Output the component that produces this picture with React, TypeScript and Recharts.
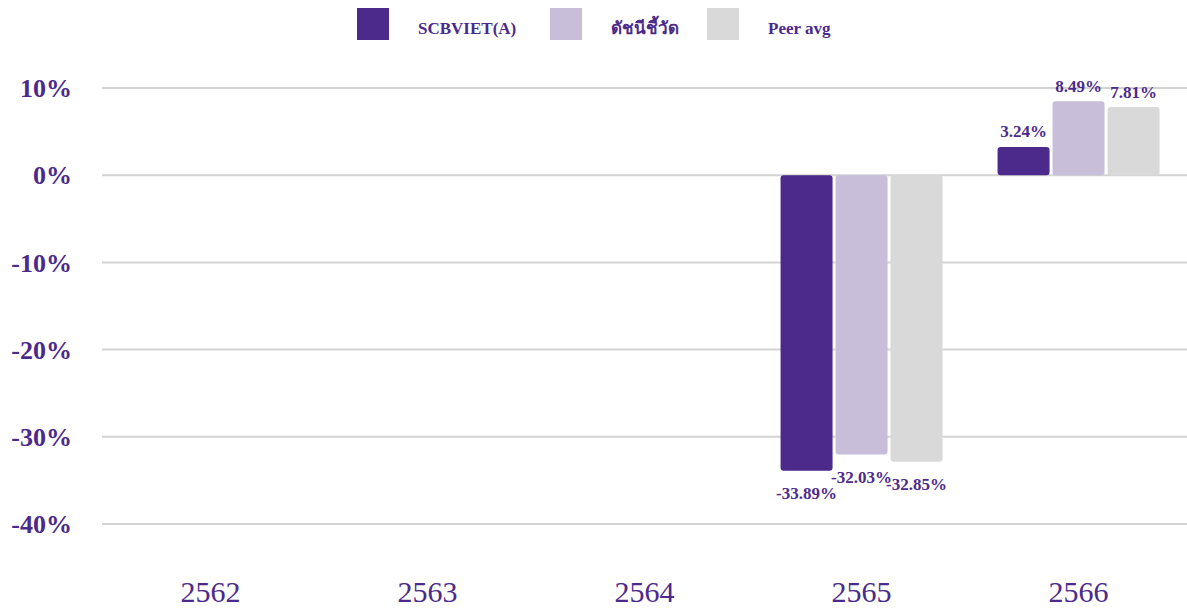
import { BarChart, Bar, XAxis, YAxis, CartesianGrid, LabelList } from 'recharts';

const years = ['2562', '2563', '2564', '2565', '2566'];
const fundReturns = [null, null, null, -33.89, 3.24];
const benchmarkReturns = [null, null, null, -32.03, 8.49];
const peerReturns = [null, null, null, -32.85, 7.81];
const yTicks = [-40, -30, -20, -10, 0, 10];

const seriesNames = ['SCBVIET(A)', 'ดัชนีชี้วัด', 'Peer avg'];
const seriesColors = ['#4B2A8C', '#C8BEDA', '#D9D9D9'];
const legendLefts = [357, 550, 707];
const textColor = '#4B2A8C';

const data = years.map((year, i) => ({
  year,
  fund: fundReturns[i],
  benchmark: benchmarkReturns[i],
  peer: peerReturns[i],
}));

// label above positive bars, below negative ones
const ValueLabel = (props: any) => {
  const { x, y, width, height, value } = props;
  if (value === null || value === undefined) return null;
  const top = Math.min(y, y + height);
  const bottom = Math.max(y, y + height);
  const cy = value < 0 ? bottom + 23 : top - 15;
  return (
    <text
      x={x + width / 2}
      y={cy}
      textAnchor="middle"
      dominantBaseline="central"
      fill={textColor}
      fontFamily="'Liberation Serif', serif"
      fontWeight="bold"
      fontSize={17}
    >
      {`${value.toFixed(2)}%`}
    </text>
  );
};

export default function App() {
  const series = ['fund', 'benchmark', 'peer'];
  return (
    <div style={{ position: 'relative', width: 1187, height: 611, background: '#fff' }}>
      <style>{`body { margin: 0; }`}</style>
      {/* Legend */}
      {seriesNames.map((name, i) => (
        <div
          key={name}
          style={{
            position: 'absolute',
            top: 8,
            left: legendLefts[i],
            height: 32,
            display: 'flex',
            alignItems: 'flex-start',
            fontFamily: "'Liberation Serif', serif",
            fontWeight: 'bold',
            fontSize: 17,
            color: textColor,
            zIndex: 1,
          }}
        >
          <div style={{ width: 32, height: 32, background: seriesColors[i], marginRight: 29 }}></div>
          <span style={{ marginTop: 11, height: 20, lineHeight: '20px', whiteSpace: 'nowrap' }}>{name}</span>
        </div>
      ))}
      <BarChart
        width={1187}
        height={611}
        data={data}
        margin={{ top: 88, right: 0, bottom: 0, left: 0 }}
        barCategoryGap="12.7%"
        barGap={3}
      >
        <CartesianGrid vertical={false} stroke="#D3D3D3" strokeWidth={2} />
        <XAxis
          dataKey="year"
          axisLine={false}
          tickLine={false}
          height={87}
          tickMargin={51}
          tick={{ fill: textColor, fontSize: 30, fontFamily: "'Liberation Serif', serif" }}
        />
        <YAxis
          domain={[-40, 10]}
          ticks={yTicks}
          axisLine={false}
          tickLine={false}
          width={102}
          tickMargin={24}
          tickFormatter={(v) => `${v}%`}
          tick={{ fill: textColor, fontSize: 26, fontWeight: 'bold', fontFamily: "'Liberation Serif', serif" }}
        />
        {series.map((key, i) => (
          <Bar key={key} dataKey={key} fill={seriesColors[i]} radius={3} isAnimationActive={false}>
            <LabelList dataKey={key} content={ValueLabel} />
          </Bar>
        ))}
      </BarChart>
    </div>
  );
}
